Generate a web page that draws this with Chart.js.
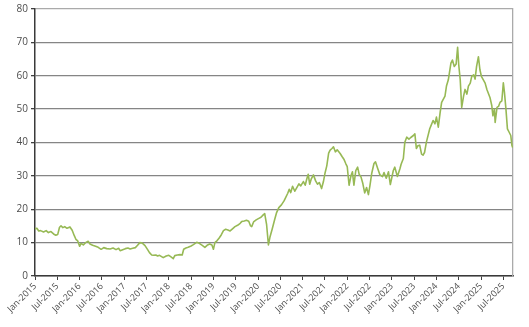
<!DOCTYPE html>
<html>
<head>
<meta charset="utf-8">
<script src="https://cdn.jsdelivr.net/npm/chart.js@4.4.1/dist/chart.umd.min.js"></script>
<style>
  html, body { margin: 0; padding: 0; background: #ffffff; }
  canvas { display: block; }
</style>
</head>
<body>
<canvas id="price-chart" width="529" height="327"></canvas>
<script>
// x-axis labels, one every 6 months starting Jan-2015
const tickLabels = [
    'Jan-2015', 'Jul-2015', 'Jan-2016', 'Jul-2016', 'Jan-2017', 'Jul-2017',
    'Jan-2018', 'Jul-2018', 'Jan-2019', 'Jul-2019', 'Jan-2020', 'Jul-2020',
    'Jan-2021', 'Jul-2021', 'Jan-2022', 'Jul-2022', 'Jan-2023', 'Jul-2023',
    'Jan-2024', 'Jul-2024', 'Jan-2025', 'Jul-2025'
];

// observation times, in months since Jan-2015
const months = [
    0.0, 0.5, 1.0, 1.5, 2.3, 3.0, 3.6, 4.3, 5.0, 5.6, 6.1, 6.6, 7.0, 7.5, 8.0, 8.6, 9.4, 10.0, 10.6, 11.0, 11.5,
    12.0, 12.4, 13.0, 13.6, 14.3, 14.8, 15.5, 16.3, 17.0, 17.8, 18.5, 19.3, 20.2, 21.0, 21.8, 22.5, 22.9, 23.6,
    24.3, 25.0, 25.6, 26.3, 27.0, 27.6, 28.2, 28.8, 29.6, 30.3, 30.8, 31.4, 31.8, 32.5, 33.0, 33.5, 34.5, 35.3,
    36.0, 36.5, 37.2, 37.6, 38.3, 39.0, 39.6, 40.0, 40.6, 41.2, 42.0, 42.6, 43.5, 44.2, 45.0, 45.7, 46.3, 47.0, 47.6,
    48.0, 48.4, 49.0, 49.5, 50.1, 50.7, 51.3, 51.9, 52.5, 53.2, 53.8, 54.5, 55.2, 55.6, 56.3, 56.9, 57.5, 58.0, 58.3, 58.8, 59.5,
    60.1, 60.8, 61.4, 61.8, 62.3, 62.8, 63.2, 63.8, 64.5, 65.0, 65.6, 66.3, 67.0, 67.3, 68.0, 68.4, 68.8, 69.3, 69.9, 70.4, 71.0, 71.5,
    72.2, 72.7, 73.1, 73.5, 73.9, 74.3, 74.9, 75.5, 76.0, 76.5, 77.1, 77.6, 78.0, 78.5, 79.0, 79.4, 79.9, 80.3, 80.8, 81.3, 82.1, 82.6, 83.1, 83.6,
    84.0, 84.5, 85.0, 85.4, 85.8, 86.3, 86.8, 87.2, 87.7, 88.2, 88.7, 89.2, 89.7, 90.1, 90.6, 91.2, 91.6, 92.2, 92.8, 93.5, 93.9, 94.5, 95.1, 95.6,
    96.4, 96.8, 97.5, 98.2, 98.5, 99.1, 99.5, 100.0, 100.6, 101.1, 101.8, 102.2, 102.6, 103.0, 103.5, 104.0, 104.4, 104.8, 105.3, 106.2, 106.6, 107.1, 107.6,
    108.0, 108.5, 109.0, 109.4, 110.3, 110.7, 111.2, 111.9, 112.3, 112.8, 113.3, 113.7, 114.0, 114.4, 114.8, 115.3, 115.7, 116.2, 116.6, 117.1, 117.5, 118.0, 118.4, 118.8, 119.3, 119.7,
    120.1, 121.1, 121.6, 122.4, 122.9, 123.2, 123.6, 123.8, 124.3, 124.7, 125.1, 125.6, 126.0, 126.3, 126.7, 127.1, 127.6, 128.0, 128.3, 128.5
];

// series values
const values = [
    14.1, 14.3, 13.5, 13.6, 13.2, 13.6, 13.0, 13.3, 12.6, 12.2, 12.4, 14.6, 15.0, 14.5, 14.8, 14.3, 14.7, 13.7, 12.0, 11.0, 10.5,
    8.9, 9.8, 9.3, 10.0, 10.4, 9.6, 9.2, 8.9, 8.6, 8.0, 8.5, 8.2, 8.1, 8.4, 7.9, 8.3, 7.6, 7.9,
    8.2, 8.4, 8.1, 8.3, 8.5, 9.2, 10.0, 9.9, 9.1, 7.9, 7.0, 6.3, 6.2, 6.3, 6.0, 6.2, 5.5, 6.0,
    6.2, 5.8, 5.2, 6.1, 6.3, 6.4, 6.3, 8.0, 8.4, 8.6, 9.0, 9.4, 10.1, 9.8, 9.2, 8.6, 9.2, 9.6, 9.3,
    8.0, 10.0, 10.6, 11.3, 12.3, 13.6, 14.0, 13.8, 13.5, 14.2, 14.8, 15.2, 15.8, 16.3, 16.5, 16.7, 16.4, 15.0, 14.8, 16.2, 16.8,
    17.2, 17.6, 18.3, 18.7, 15.5, 9.3, 11.6, 14.0, 17.0, 19.0, 20.5, 21.3, 22.5, 23.2, 24.8, 26.0, 25.0, 26.9, 25.4, 26.4, 27.6, 27.0,
    28.3, 27.2, 29.0, 30.5, 27.5, 29.0, 30.3, 28.5, 27.5, 28.0, 26.2, 28.3, 30.7, 33.0, 36.8, 37.7, 38.2, 38.7, 37.2, 37.8, 36.7, 35.8, 35.0, 33.7,
    32.8, 27.2, 30.0, 31.2, 27.2, 31.6, 32.6, 30.5, 29.7, 27.7, 24.9, 26.5, 24.4, 27.0, 30.8, 33.7, 34.2, 32.2, 30.3, 29.8, 31.0, 29.3, 31.2, 27.4,
    31.6, 32.6, 29.8, 32.2, 33.5, 35.2, 40.1, 41.6, 41.0, 41.5, 42.1, 42.6, 38.2, 39.0, 39.2, 36.5, 36.2, 37.0, 40.1, 44.1, 45.2, 46.6, 45.6,
    47.6, 44.6, 49.0, 52.0, 53.9, 56.9, 58.8, 63.8, 64.7, 62.8, 63.5, 68.5, 63.3, 58.8, 50.5, 53.9, 55.9, 54.5, 56.9, 57.8, 59.8, 60.3, 59.0, 62.8, 65.7, 61.8,
    59.8, 57.8, 55.8, 53.5, 51.0, 48.0, 50.0, 46.0, 50.5, 50.8, 52.0, 52.5, 57.9, 55.0, 50.0, 44.1, 43.0, 42.1, 39.2, 38.5
];

const yTicks = [0, 10, 20, 30, 40, 50, 60, 70, 80];

const points = months.map((m, i) => ({ x: m, y: values[i] }));
const ctx = document.getElementById('price-chart');

new Chart(ctx, {
    type: 'line',
    data: {
        datasets: [{
            data: points,
            borderColor: '#97b955',
            borderWidth: 1.6,
            pointRadius: 0,
            tension: 0,
            borderJoinStyle: 'round'
        }]
    },
    options: {
        responsive: false,
        animation: false,
        layout: {
            padding: { top: 5, right: 16, left: 0, bottom: 0 }
        },
        plugins: {
            legend: { display: false },
            tooltip: { enabled: false }
        },
        scales: {
            x: {
                type: 'linear',
                min: 0,
                max: 128.6,
                afterBuildTicks: scale => {
                    scale.ticks = tickLabels.map((_, i) => ({ value: i * 6 }));
                },
                afterFit: scale => { scale.height = 51; },
                ticks: {
                    autoSkip: false,
                    minRotation: 45,
                    maxRotation: 45,
                    padding: 1,
                    color: '#4d4d4d',
                    font: { family: 'Open Sans', size: 9 },
                    callback: v => tickLabels[Math.round(v / 6)]
                },
                grid: {
                    drawOnChartArea: false,
                    drawTicks: true,
                    tickLength: 4,
                    tickColor: '#404040',
                    color: '#404040'
                },
                border: { color: '#3a3a3a', width: 1.5 }
            },
            y: {
                min: 0,
                max: 80,
                afterBuildTicks: scale => {
                    scale.ticks = yTicks.map(v => ({ value: v }));
                },
                afterFit: scale => { scale.width = 35; },
                ticks: {
                    padding: 3,
                    color: '#4d4d4d',
                    font: { family: 'Open Sans', size: 10 }
                },
                grid: {
                    color: c => (c.tick && c.tick.value === 80) ? '#aaaaaa' : '#858585',
                    lineWidth: 1.3,
                    tickLength: 4,
                    tickColor: '#404040'
                },
                border: { color: '#3a3a3a', width: 1.5 }
            },
            yRight: {
                position: 'right',
                min: 0,
                max: 80,
                afterFit: scale => { scale.width = 0; },
                ticks: { display: false },
                grid: { display: false, drawTicks: false },
                border: { color: '#aaaaaa', width: 1.3 }
            }
        }
    }
});
</script>
</body>
</html>
